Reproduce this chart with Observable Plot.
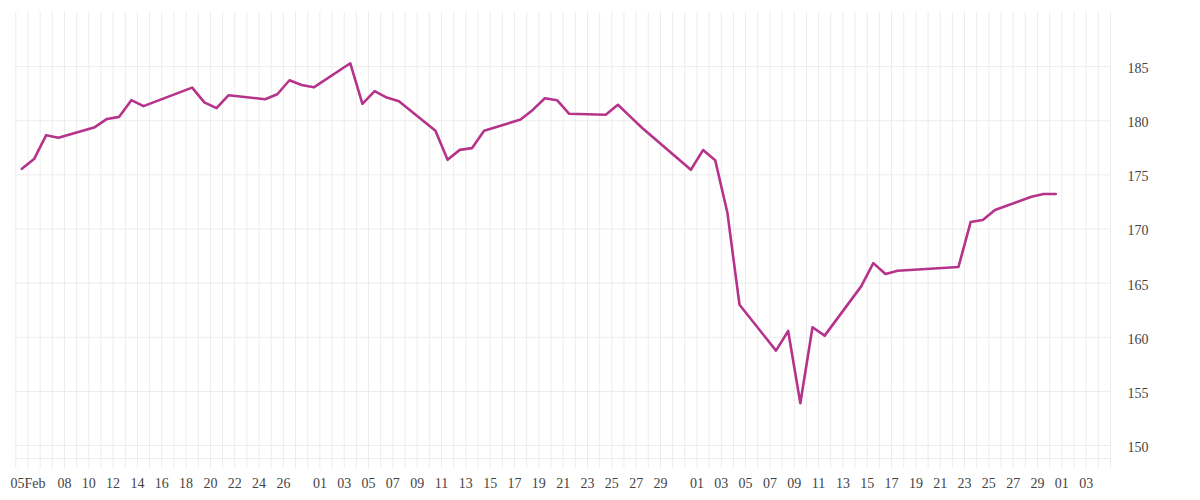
<!DOCTYPE html>
<html>
<head>
<meta charset="utf-8">
<script src="https://cdn.jsdelivr.net/npm/d3@7"></script>
<script src="https://cdn.jsdelivr.net/npm/@observablehq/plot@0.6"></script>
<style>
  html, body { margin: 0; padding: 0; background: #fff; }
</style>
</head>
<body>
<div id="chart"></div>
<script>
// Trading dates (2019) and closing values
const dates = [
  "2019-02-05","2019-02-06","2019-02-07","2019-02-08",
  "2019-02-11","2019-02-12","2019-02-13","2019-02-14","2019-02-15",
  "2019-02-19","2019-02-20","2019-02-21","2019-02-22",
  "2019-02-25","2019-02-26","2019-02-27","2019-02-28","2019-03-01",
  "2019-03-04","2019-03-05","2019-03-06","2019-03-07","2019-03-08",
  "2019-03-11","2019-03-12","2019-03-13","2019-03-14","2019-03-15",
  "2019-03-18","2019-03-19","2019-03-20","2019-03-21","2019-03-22",
  "2019-03-25","2019-03-26","2019-03-27","2019-03-28",
  "2019-04-01","2019-04-02","2019-04-03","2019-04-04","2019-04-05",
  "2019-04-08","2019-04-09","2019-04-10","2019-04-11","2019-04-12",
  "2019-04-15","2019-04-16","2019-04-17","2019-04-18",
  "2019-04-23","2019-04-24","2019-04-25","2019-04-26",
  "2019-04-29","2019-04-30","2019-05-01"
];
const closes = [
  175.56, 176.46, 178.67, 178.42,
  179.41, 180.17, 180.36, 181.90, 181.35,
  183.06, 181.70, 181.16, 182.36,
  181.99, 182.45, 183.74, 183.30, 183.09,
  185.31, 181.56, 182.73, 182.14, 181.80,
  179.07, 176.39, 177.31, 177.47, 179.07,
  180.11, 181.00, 182.08, 181.90, 180.64,
  180.55, 181.48, 180.40, 179.33,
  175.47, 177.29, 176.36, 171.53, 163.00,
  158.77, 160.58, 153.90, 160.92, 160.15,
  164.70, 166.85, 165.84, 166.15,
  166.49, 170.64, 170.83, 171.75,
  172.98, 173.23, 173.23
];

// Tick labels shown on the x axis
const xTickDates = [
  "2019-02-05","2019-02-08","2019-02-10","2019-02-12","2019-02-14","2019-02-16",
  "2019-02-18","2019-02-20","2019-02-22","2019-02-24","2019-02-26",
  "2019-03-01","2019-03-03","2019-03-05","2019-03-07","2019-03-09","2019-03-11",
  "2019-03-13","2019-03-15","2019-03-17","2019-03-19","2019-03-21","2019-03-23",
  "2019-03-25","2019-03-27","2019-03-29",
  "2019-04-01","2019-04-03","2019-04-05","2019-04-07","2019-04-09","2019-04-11",
  "2019-04-13","2019-04-15","2019-04-17","2019-04-19","2019-04-21","2019-04-23",
  "2019-04-25","2019-04-27","2019-04-29",
  "2019-05-01","2019-05-03"
];
const yTickValues = [150, 155, 160, 165, 170, 175, 180, 185];

const parse = d3.utcParse("%Y-%m-%d");
const data = dates.map((d, i) => ({date: parse(d), close: closes[i]}));
const xTicks = xTickDates.map(parse);
const xDomain = [parse("2019-02-04"), parse("2019-05-05")];
const yDomain = [148.8, 190];
// the reference draws each daily close half a day before its date gridline
const shift = d => d3.utcHour.offset(d, -12);
const dayGrid = d3.utcDay.range(xDomain[0], d3.utcDay.offset(xDomain[1], 1));
const fmtX = d => (+d === +xTicks[0]) ? d3.utcFormat("%d%b")(d) : d3.utcFormat("%d")(d);

const gridColor = "#ececec";
const textColor = "#444";

const chart = Plot.plot({
  width: 1200,
  height: 500,
  marginLeft: 15.3,
  marginRight: 90,
  marginTop: 12,
  marginBottom: 42,
  x: {type: "utc", domain: xDomain, axis: null},
  y: {domain: yDomain, axis: null},
  style: {fontFamily: "'Liberation Serif', serif", fontSize: "14px", background: "#fff", overflow: "visible"},
  marks: [
    Plot.ruleX(dayGrid, {x: d => d, stroke: gridColor, strokeWidth: 1, insetBottom: -10}),
    Plot.ruleY(yTickValues, {y: d => d, stroke: gridColor, strokeWidth: 1}),
    Plot.ruleY([yDomain[0]], {y: d => d, stroke: gridColor, strokeWidth: 1}),
    Plot.line(data, {x: d => shift(d.date), y: "close", stroke: "#b5338a", strokeWidth: 2.6, strokeLinejoin: "round"}),
    Plot.text(yTickValues, {x: () => xDomain[1], y: d => d, text: d => String(d), textAnchor: "start", dx: 17, dy: 2, fill: textColor}),
    Plot.text(xTicks, {x: d => d, y: () => yDomain[0], text: fmtX, textAnchor: "middle", dy: 25, fill: textColor})
  ]
});
document.getElementById("chart").appendChild(chart);
</script>
</body>
</html>
